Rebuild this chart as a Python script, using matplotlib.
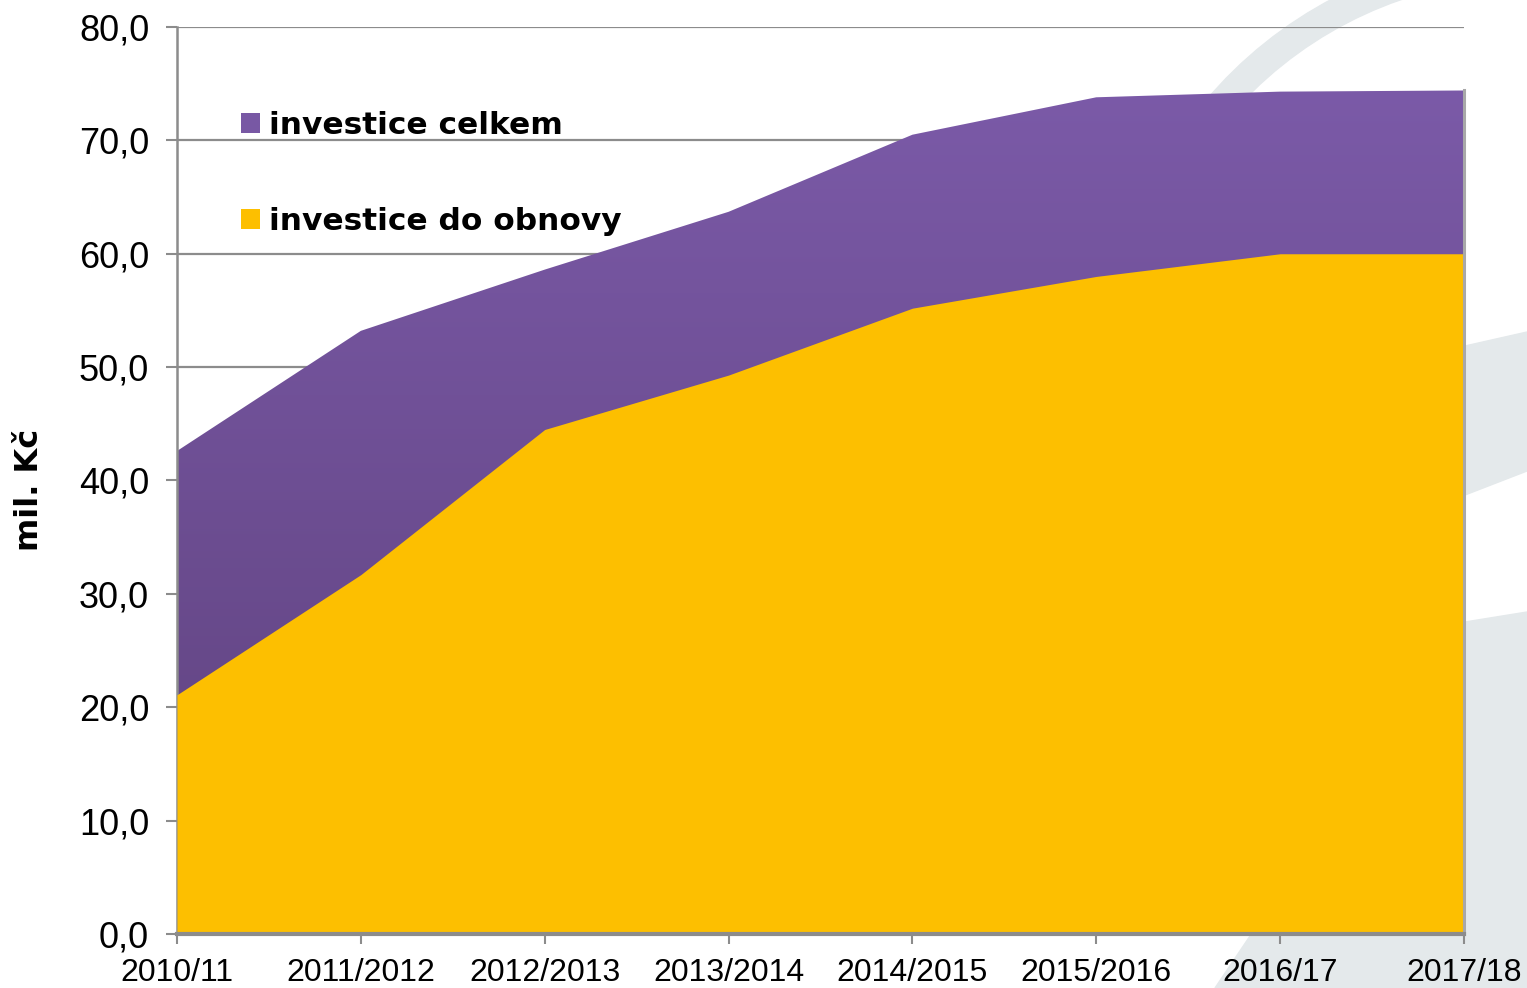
import numpy as np
import matplotlib
matplotlib.use("Agg")
import matplotlib.pyplot as plt
from matplotlib.patches import Patch, Wedge, Polygon
from matplotlib.colors import LinearSegmentedColormap
from matplotlib.transforms import IdentityTransform

### DATA
roky = ["2010/11", "2011/2012", "2012/2013", "2013/2014", "2014/2015", "2015/2016", "2016/17", "2017/18"]
investice_celkem = [42.6, 53.2, 58.6, 63.7, 70.5, 73.8, 74.3, 74.4]
investice_obnova = [21.1, 31.7, 44.5, 49.3, 55.2, 58.0, 60.0, 60.0]
y_ticks = [0, 10, 20, 30, 40, 50, 60, 70, 80]

W, H = 1527, 988
fig = plt.figure(figsize=(W / 100, H / 100), dpi=100)
fig.patch.set_facecolor("white")

### BACKGROUND WATERMARK (light gray arcs, pixel coords, y up)
wm = "#e4e9eb"
fig.patches.append(Wedge((1530, H - 374), 424, 95, 185, width=28, color=wm,
                         transform=IdentityTransform(), zorder=-5))
band1 = [(1465, 346), (1527, 332), (1527, 471), (1465, 495)]
band2 = [(1465, 622), (1527, 612), (1527, 988), (1215, 988), (1250, 936), (1465, 936)]
for b in (band1, band2):
    fig.patches.append(Polygon([(x, H - y) for x, y in b], closed=True, color=wm,
                               transform=IdentityTransform(), zorder=-5))

ax = fig.add_axes([177 / W, 1 - 934 / H, (1464 - 177) / W, (934 - 27) / H])
ax.set_facecolor("none")

x = np.arange(len(roky))

### AREAS
purple_fill = ax.fill_between(x, 0, investice_celkem, color="none", lw=0, zorder=2)
cmap = LinearSegmentedColormap.from_list("fial", ["#664888", "#7b5aa8"])
grad = np.linspace(0, 1, 256).reshape(-1, 1)
grad = np.clip((grad * 80 - 20) / 55, 0, 1)
img = ax.imshow(grad, extent=(0, 7, 0, 80), origin="lower", aspect="auto", cmap=cmap,
                vmin=0, vmax=1, zorder=2, interpolation="bilinear")
img.set_clip_path(purple_fill.get_paths()[0], transform=ax.transData)
ax.fill_between(x, 0, investice_obnova, color="#fdbf00", lw=0, zorder=3)
ax.plot([x[-1], x[-1]], [0, investice_celkem[-1]], color="#a8a8a8", lw=2.2, zorder=4, clip_on=False)

### AXES
ax.set_xlim(0, len(roky) - 1)
ax.set_ylim(0, 80)
ax.set_yticks(y_ticks)
ax.set_yticklabels([f"{v:.1f}".replace(".", ",") for v in y_ticks], fontsize=26, family="Liberation Sans")
ax.set_xticks(x)
ax.set_xticklabels(roky, fontsize=23, family="Liberation Sans")
ax.yaxis.grid(True, color="#8c8c8c", lw=1.6, zorder=1)
ax.set_axisbelow(True)
for s in ["top", "right"]:
    ax.spines[s].set_visible(False)
ax.spines["left"].set_color("#8c8c8c")
ax.spines["left"].set_linewidth(1.8)
ax.spines["bottom"].set_color("#8c8c8c")
ax.spines["bottom"].set_linewidth(3)
ax.spines["bottom"].set_zorder(5)
ax.tick_params(axis="y", length=8, width=1.5, color="#8c8c8c", pad=12)
ax.tick_params(axis="x", length=7, width=1.5, color="#8c8c8c", pad=10)

fig.text(30 / W, 1 - 490 / H, "mil. Kč", rotation=90, ha="center", va="center",
         fontsize=23, fontweight="bold")

### LEGEND
handles = [Patch(facecolor="#7858a4", edgecolor="none", label="investice celkem"),
           Patch(facecolor="#fdbf00", edgecolor="none", label="investice do obnovy")]
ax.legend(handles=handles, loc="upper left", bbox_to_anchor=((241 - 177) / 1287, 1 - (111 - 27) / 907),
          frameon=False, prop={"size": 22.5, "weight": "bold"}, handlelength=0.6, handleheight=0.6,
          handletextpad=0.3, labelspacing=2.15, borderpad=0, borderaxespad=0)

plt.savefig("out.png", dpi=100)
